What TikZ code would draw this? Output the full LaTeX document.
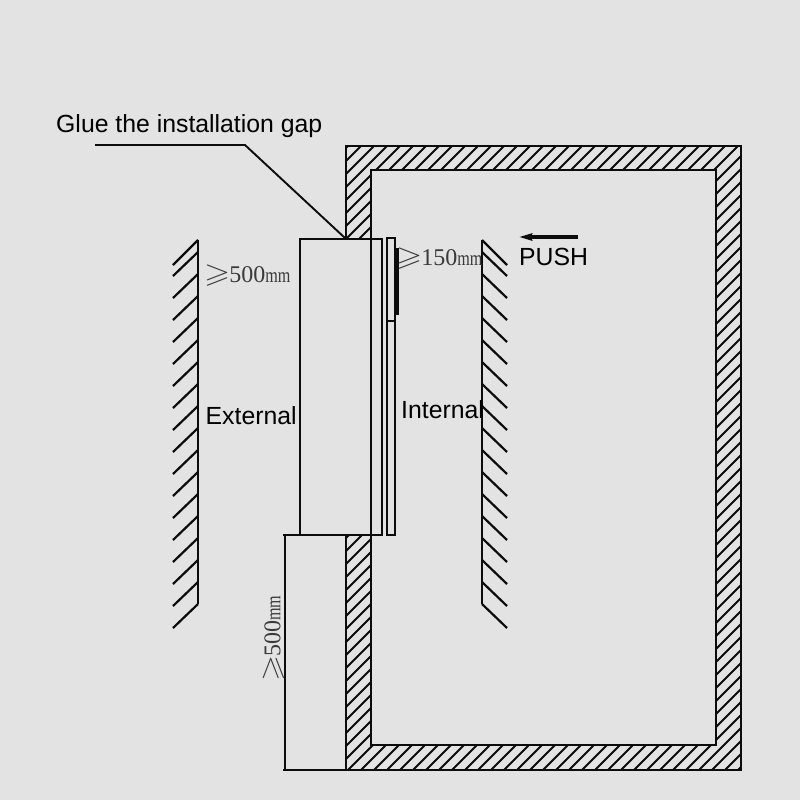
\documentclass[tikz,border=0pt]{standalone}
\usepackage{amssymb}
\usepackage{graphicx}
\usepackage{fontspec}
\setmainfont{Liberation Serif}
\setsansfont{Liberation Sans}
\usetikzlibrary{arrows.meta}
\definecolor{bg}{HTML}{E3E3E3}
\definecolor{ink}{HTML}{0C0C0C}
\definecolor{dimtext}{HTML}{3A3A3A}
\newcommand{\dimtxt}[1]{\scalebox{1.4}[1.15]{$\geqslant$}\kern-1pt#1{\fontsize{19}{19}\selectfont\scalebox{0.85}[1.1]{mm}}}
\begin{document}
\begin{tikzpicture}[x=1pt,y=-1pt,
  wall/.style={draw=ink,line width=2.6pt},
  hatch/.style={draw=ink,line width=1.8pt},
  part/.style={draw=ink,line width=2.2pt},
  thin line/.style={draw=ink,line width=1.9pt},
  label/.style={font=\sffamily\fontsize{24.8}{26}\selectfont,text=black,inner sep=0pt},
  dimlabel/.style={font=\rmfamily\fontsize{24}{24}\selectfont,text=dimtext,inner sep=0pt}]
\useasboundingbox[fill=bg] (0,0) rectangle (800,800);
% wall hatching
\begin{scope}
  \clip (346,146) rectangle (741,170)
        (716,146) rectangle (741,770)
        (346,745) rectangle (741,770)
        (346,146) rectangle (371,238)
        (346,535) rectangle (371,770);
  \foreach \c in {0,13,...,1525}{
    \draw[hatch] (\c,0+0) -- (0,\c);
  }
\end{scope}
% wall outline
\draw[wall] (346,238) -- (346,146) -- (741,146) -- (741,770) -- (346,770) -- (346,535);
\draw[wall] (371,238) -- (371,170) -- (716,170) -- (716,745) -- (371,745) -- (371,535);
% clearance walls
\coordinate (la) at (198,240); \coordinate (lb) at (198,604);
\coordinate (ra) at (482,240); \coordinate (rb) at (482,604);
\draw[wall] (la) -- (lb);
\draw[wall] (ra) -- (rb);
\draw[part] (198,240) -- (173,265);
\draw[part] (482,240) -- (507,265);
\foreach \y in {252,274,...,604}{
  \draw[part] (198,\y) -- (173,\y+24);
  \draw[part] (482,\y) -- (507,\y+24);
}
% unit
\draw[part] (383,239) -- (300,239) -- (300,535);
\draw[part] (371,238) -- (371,535);
\draw[part] (382,239) -- (382,535);
\draw[part] (387,238) rectangle (395,535);
\draw[part] (387,321) -- (395,321);
\draw[draw=ink,line width=4.5pt] (397,248) -- (397,315);
% dimension lines
\coordinate (da) at (283,535); \coordinate (db) at (383,535);
\draw[part] (da) -- (db);
\coordinate (dc) at (283,770); \coordinate (dd) at (346,770);
\draw[thin line] (dc) -- (dd);
\draw[thin line] (285,535) -- (285,770);
% leader
\coordinate (l1) at (95,145); \coordinate (l2) at (245,145); \coordinate (l3) at (345,238);
\draw[thin line] (l1) -- (l2) -- (l3);
% push arrow
\coordinate (p1) at (578,237); \coordinate (p2) at (519,237);
\draw[draw=ink,line width=4pt,-{Stealth[length=13pt,width=7pt,inset=1pt]}] (p1) -- (p2);
% labels
\node[label,anchor=west] (glue) at (56,126) {Glue the installation gap};
\node[label,anchor=west] (ext) at (205.5,416) {External};
\node[label,anchor=west] (int) at (401,410) {Internal};
\node[label,anchor=west] (push) at (519,257) {PUSH};
\node[dimlabel,anchor=west] (d1) at (204,275.5) {\dimtxt{500}};
\node[dimlabel,anchor=west] (d2) at (396,258.5) {\dimtxt{150}};
\node[dimlabel,anchor=west,rotate=90] (d3) at (273.5,682) {\dimtxt{500}};
\end{tikzpicture}
\end{document}
